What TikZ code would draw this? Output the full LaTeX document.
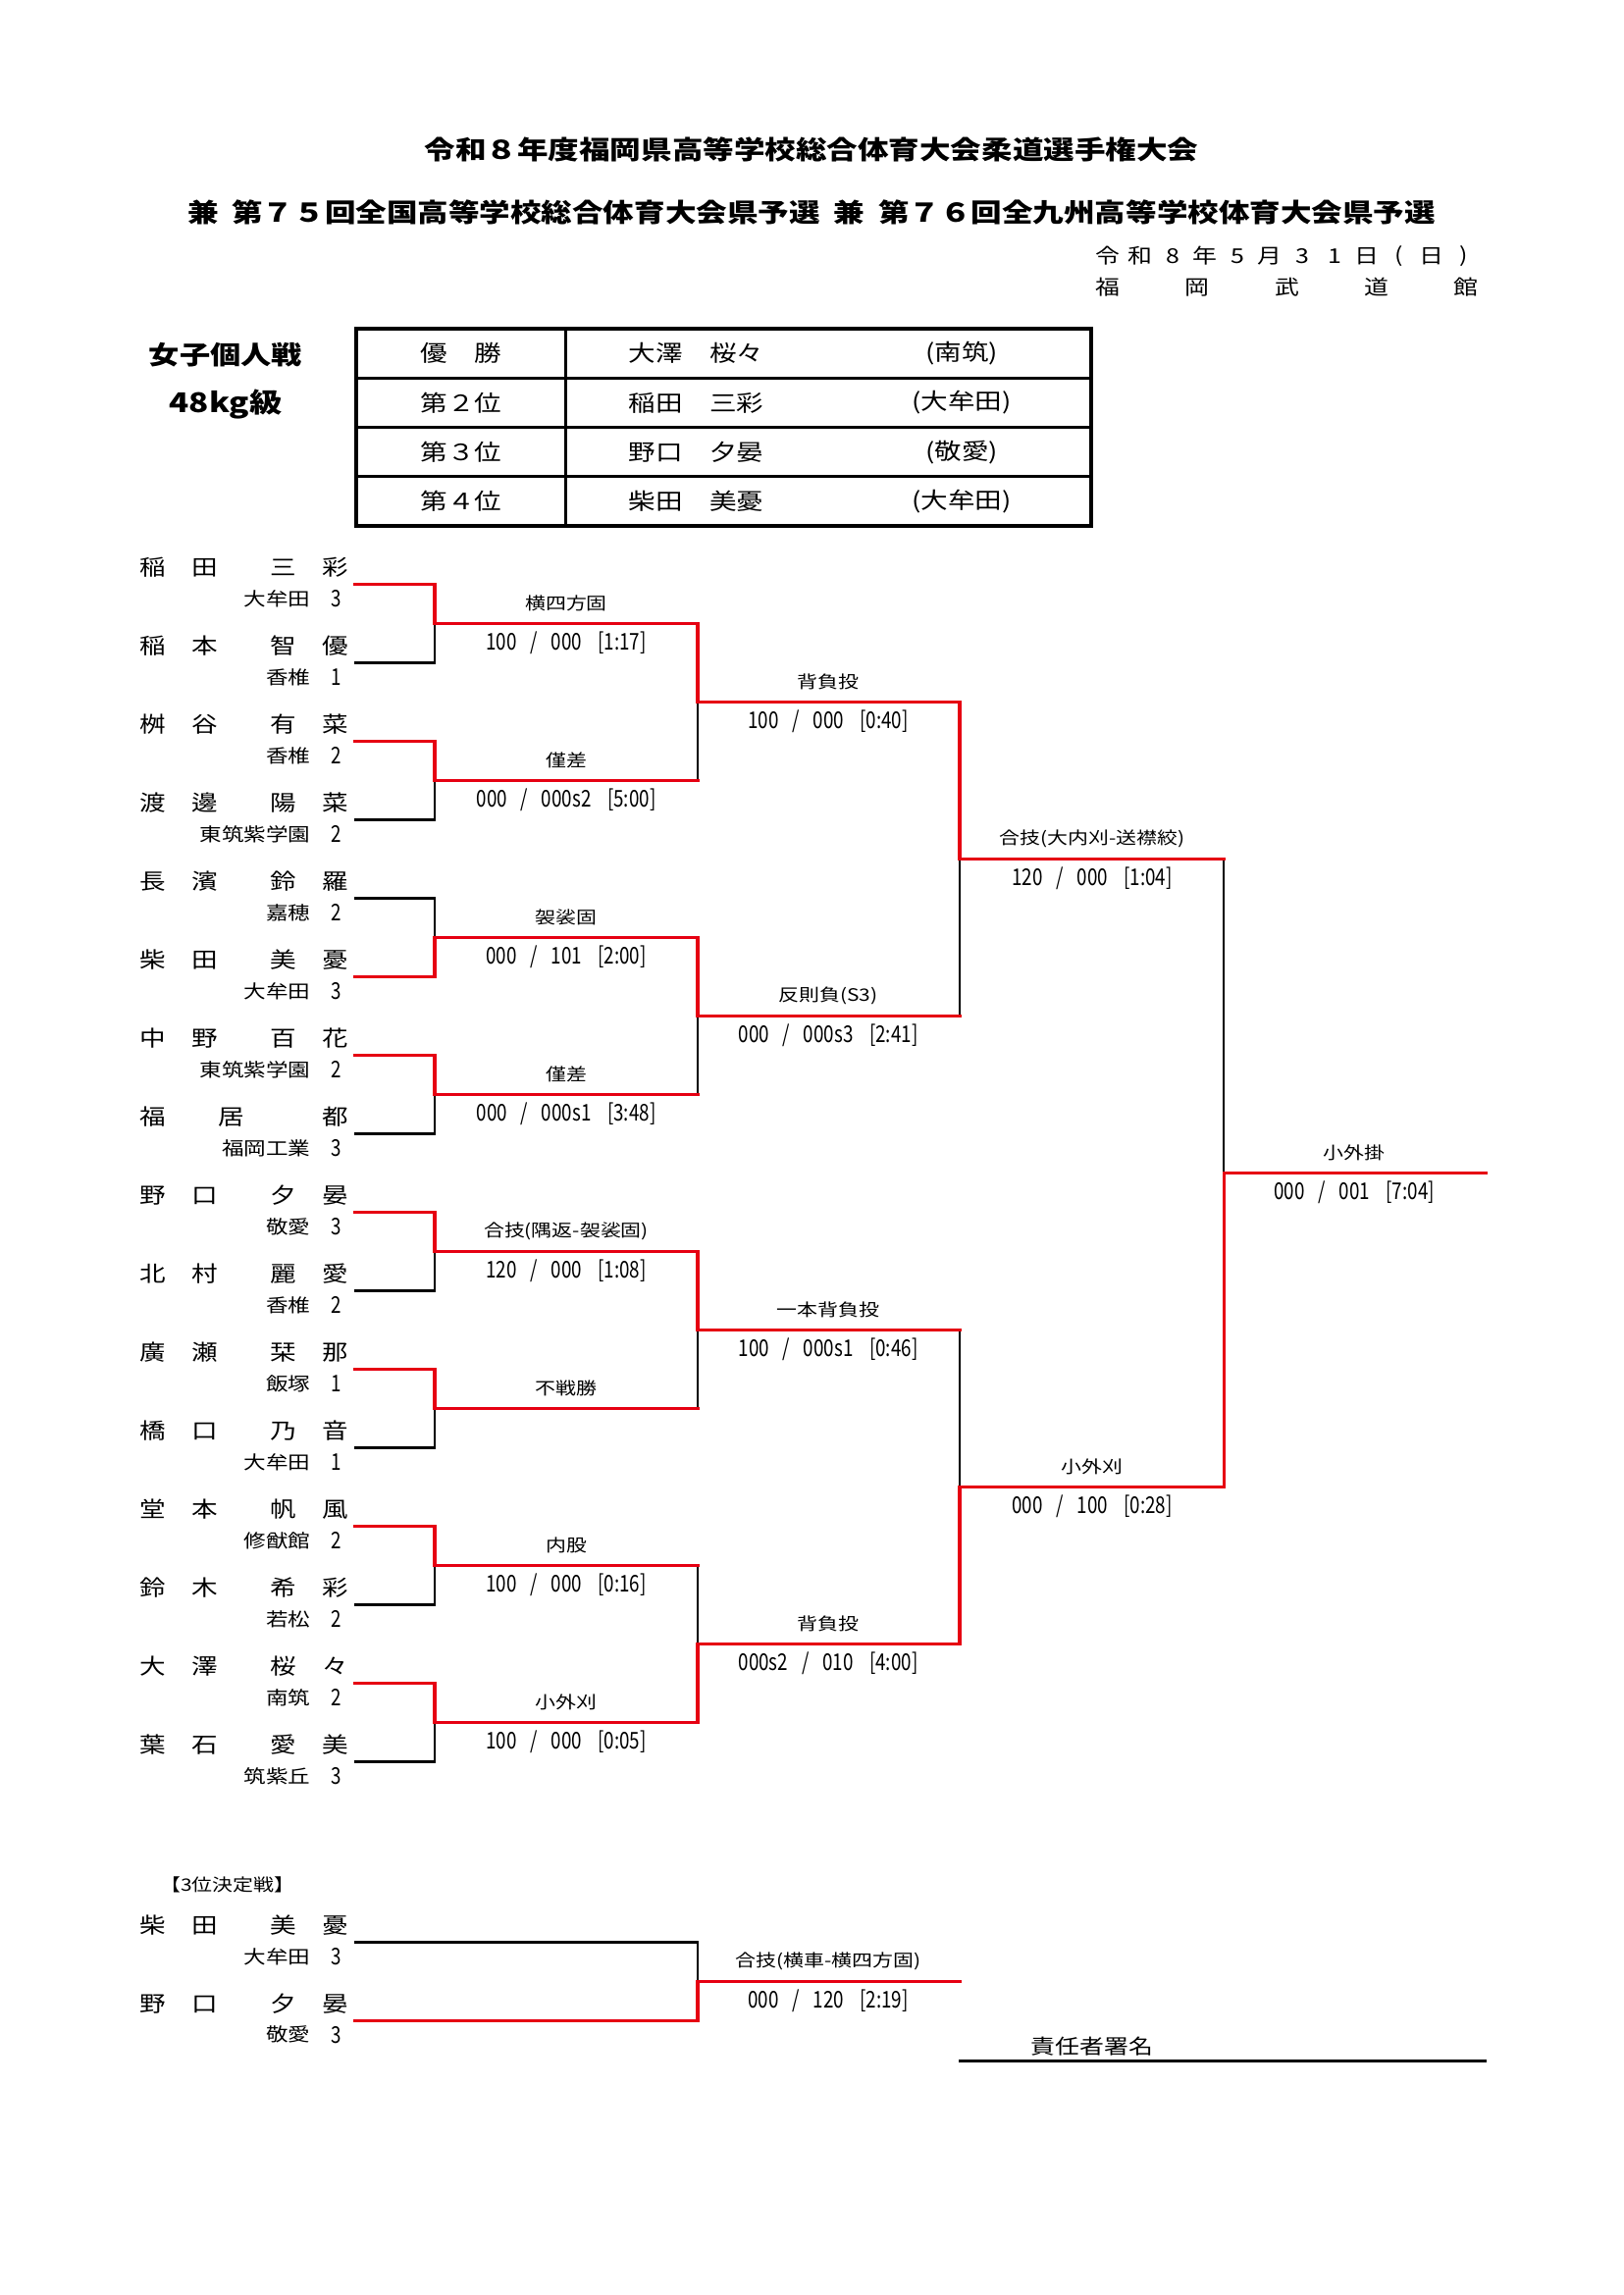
\documentclass[tikz,border=0pt]{standalone}
\usepackage{fontspec}
\setmainfont{Noto Sans CJK JP}
\newfontfamily\widejp[FakeStretch=1.2]{Noto Sans CJK JP}
\newfontfamily\narrowjp[FakeStretch=0.8]{Noto Sans CJK JP}
\usetikzlibrary{positioning}
\definecolor{winred}{RGB}{230,0,18}
\newcommand{\setfs}[1]{\fontsize{#1}{#1}\selectfont}
\newcommand{\mscore}[3]{#1\hspace{5pt}/\hspace{5pt}#2\hspace{6pt}[#3]}

\begin{document}
\begin{tikzpicture}[x=0.127mm, y=-0.127mm, line cap=rect,
	lose/.style={black, line width=0.9pt},
	win/.style={winred, line width=1.1pt},
	tabline/.style={line width=1.2pt},
	headline/.style={font=\widejp\bfseries\setfs{9.5}, inner sep=0pt},
	dateglyph/.style={font=\widejp\setfs{7.5}, inner sep=0pt},
	player/.style={font=\widejp\setfs{8}, anchor=west, inner sep=0pt},
	school/.style={font=\widejp\setfs{6.8}, anchor=east, inner sep=0pt},
	grade/.style={font=\narrowjp\setfs{8.5}, inner sep=0pt},
	waza/.style={font=\widejp\setfs{6.3}, inner sep=0pt},
	result/.style={font=\narrowjp\setfs{8.5}, inner sep=0pt},
	cell/.style={font=\widejp\setfs{8.3}, inner sep=0pt}]
	\useasboundingbox (0,0) rectangle (1654,2339);

	% heading
	\node[headline] (t1) at (827,152) {令和８年度福岡県高等学校総合体育大会柔道選手権大会};
	\node[headline] (t2) at (827,216) {兼\hspace{5pt}第７５回全国高等学校総合体育大会県予選\hspace{5pt}兼\hspace{5pt}第７６回全九州高等学校体育大会県予選};
	\foreach \c [count=\i from 0] in {令,和,8,年,5,月,3,1,日,{(},日,{)}}
		\node[dateglyph] (d\i) at (1129+33*\i,261) {\c};
	\foreach \c [count=\i from 0] in {福,岡,武,道,館}
		\node[dateglyph] (v\i) at (1129+91.3*\i,293) {\c};
	\node[headline, font=\widejp\bfseries\setfs{9.4}] (ev) at (230,362) {女子個人戦};
	\node[headline, font=\widejp\bfseries\setfs{10}] (wc) at (230,412) {48kg級};

	% result table
	\draw[tabline] (363,335) rectangle (1112,536);
	\foreach \yy in {385.7,435.7,485.7} \draw[tabline] (363,\yy) -- (1112,\yy);
	\draw[tabline] (576.5,335) -- (576.5,536);
	\foreach \r/\pl/\nm/\sc in {1/優　勝/大澤　桜々/(南筑), 2/第２位/稲田　三彩/(大牟田),
		3/第３位/野口　夕晏/(敬愛), 4/第４位/柴田　美憂/(大牟田)} {
		\node[cell] (rk\r) at (470,310+50.2*\r) {\pl};
		\node[cell, anchor=west] (rn\r) at (640,310+50.2*\r) {\nm};
		\node[cell] (rs\r) at (980,310+50.2*\r) {\sc};
	}

	% players
	\foreach \k/\nm/\sc/\gr/\st in {
		1/稲　田　　三　彩/大牟田/3/win, 2/稲　本　　智　優/香椎/1/lose,
		3/桝　谷　　有　菜/香椎/2/win, 4/渡　邊　　陽　菜/東筑紫学園/2/lose,
		5/長　濱　　鈴　羅/嘉穂/2/lose, 6/柴　田　　美　憂/大牟田/3/win,
		7/中　野　　百　花/東筑紫学園/2/win, 8/福　　居　　　都/福岡工業/3/lose,
		9/野　口　　夕　晏/敬愛/3/win, 10/北　村　　麗　愛/香椎/2/lose,
		11/廣　瀬　　栞　那/飯塚/1/win, 12/橋　口　　乃　音/大牟田/1/lose,
		13/堂　本　　帆　風/修猷館/2/win, 14/鈴　木　　希　彩/若松/2/lose,
		15/大　澤　　桜　々/南筑/2/win, 16/葉　石　　愛　美/筑紫丘/3/lose} {
		\coordinate (a\k) at (362,515.7+80*\k);
		\coordinate (p\k) at (443,515.7+80*\k);
		\draw[\st] (a\k) -- (p\k);
		\node[player] (n\k) at (142,497.7+80*\k) {\nm};
		\node[school] (s\k) at (317,530+80*\k) {\sc};
		\node[grade] (g\k) at (343,530+80*\k) {\gr};
	}

	% bracket
	\foreach \j in {1,...,8} \coordinate (m\j) at (711,475.7+160*\j);
	\foreach \j in {1,...,4} \coordinate (q\j) at (978,395.7+320*\j);
	\foreach \j in {1,2} \coordinate (r\j) at (1247,235.7+640*\j);
	\coordinate (f) at (1514,1195.7);
	\foreach \w/\l/\e in {p1/p2/m1, p3/p4/m2, p6/p5/m3, p7/p8/m4, p9/p10/m5, p11/p12/m6,
		p13/p14/m7, p15/p16/m8, m1/m2/q1, m3/m4/q2, m5/m6/q3, m8/m7/q4, q1/q2/r1, q4/q3/r2, r2/r1/f}
		\draw[lose] (\l) -- (\l |- \e);
	\foreach \w/\l/\e in {p1/p2/m1, p3/p4/m2, p6/p5/m3, p7/p8/m4, p9/p10/m5, p11/p12/m6,
		p13/p14/m7, p15/p16/m8, m1/m2/q1, m3/m4/q2, m5/m6/q3, m8/m7/q4, q1/q2/r1, q4/q3/r2, r2/r1/f}
		\draw[win] (\w) |- (\e);

	% 3rd place
	\node[waza, font=\widejp\setfs{6.3}] (bronze) at (232,1921) {【3位決定戦】};
	\foreach \k/\nm/\sc/\gr/\yy/\st in {17/柴　田　　美　憂/大牟田/3/1979.5/lose,
		18/野　口　　夕　晏/敬愛/3/2059.5/win} {
		\coordinate (a\k) at (362,\yy);
		\coordinate (p\k) at (711,\yy);
		\node[player] (n\k) at (142,\yy-17.7) {\nm};
		\node[school] (s\k) at (317,\yy+14.3) {\sc};
		\node[grade] (g\k) at (343,\yy+14.3) {\gr};
	}
	\coordinate (t3) at (978,2019.5);
	\draw[lose] (a17) -- (p17) -- (p17 |- t3);
	\draw[win] (a18) -- (p18) |- (t3);

	% match labels
	\foreach \e/\tec in {m1/横四方固, m2/僅差, m3/袈裟固, m4/僅差, m5/合技(隅返-袈裟固), m6/不戦勝,
		m7/内股, m8/小外刈, q1/背負投, q2/反則負(S3), q3/一本背負投, q4/背負投,
		r1/合技(大内刈-送襟絞), r2/小外刈, f/小外掛, t3/合技(横車-横四方固)}
		\node[waza] (w\e) at ([shift={(-134,-21)}]\e) {\tec};
	\foreach \e/\res in {m1/{\mscore{100}{000}{1:17}}, m2/{\mscore{000}{000s2}{5:00}},
		m3/{\mscore{000}{101}{2:00}}, m4/{\mscore{000}{000s1}{3:48}}, m5/{\mscore{120}{000}{1:08}},
		m7/{\mscore{100}{000}{0:16}}, m8/{\mscore{100}{000}{0:05}}, q1/{\mscore{100}{000}{0:40}},
		q2/{\mscore{000}{000s3}{2:41}}, q3/{\mscore{100}{000s1}{0:46}}, q4/{\mscore{000s2}{010}{4:00}},
		r1/{\mscore{120}{000}{1:04}}, r2/{\mscore{000}{100}{0:28}}, f/{\mscore{000}{001}{7:04}},
		t3/{\mscore{000}{120}{2:19}}}
		\node[result] (x\e) at ([shift={(-134,19.5)}]\e) {\res};

	% signature
	\node[dateglyph] (sig) at (1113,2086) {責任者署名};
	\coordinate (sl) at (979,2100);
	\coordinate (sr) at (1513,2100);
	\draw[line width=1.1pt] (sl) -- (sr);
\end{tikzpicture}
\end{document}
